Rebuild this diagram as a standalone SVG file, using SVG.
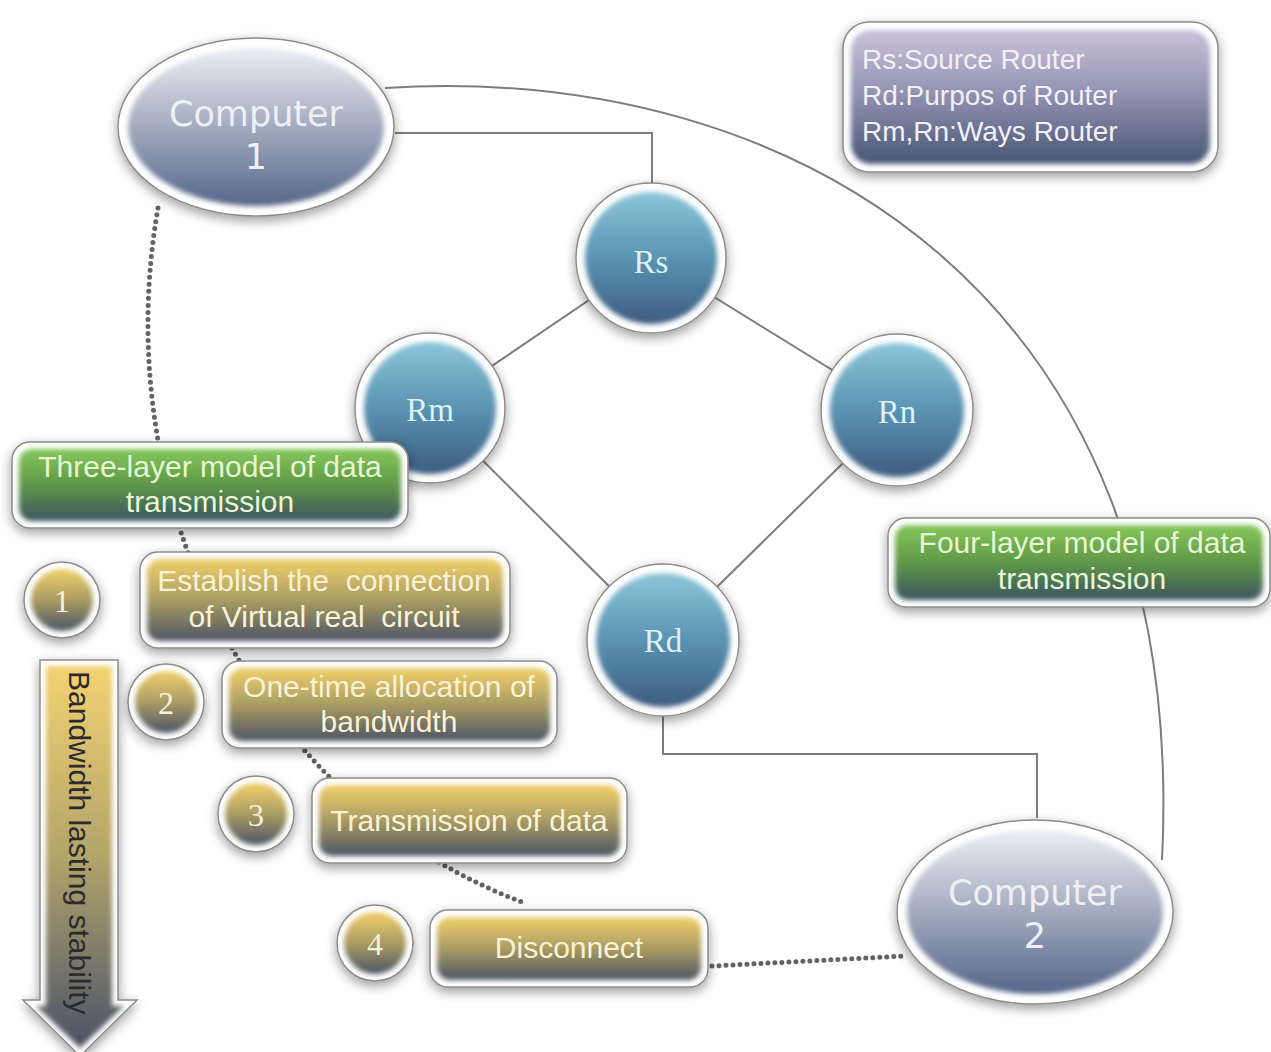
<svg xmlns="http://www.w3.org/2000/svg" width="1271" height="1052" viewBox="0 0 1271 1052">
  <defs>
    <linearGradient id="gComp" x1="0" y1="0" x2="0" y2="1">
      <stop offset="0" stop-color="#eceef3"/>
      <stop offset="0.45" stop-color="#a9b1c4"/>
      <stop offset="1" stop-color="#56668a"/>
    </linearGradient>
    <linearGradient id="gRouter" x1="0" y1="0" x2="0" y2="1">
      <stop offset="0" stop-color="#8bc6d9"/>
      <stop offset="0.5" stop-color="#5a93b1"/>
      <stop offset="1" stop-color="#3d5c80"/>
    </linearGradient>
    <linearGradient id="gLegend" x1="0" y1="0" x2="0" y2="1">
      <stop offset="0" stop-color="#cbc2db"/>
      <stop offset="0.5" stop-color="#8e8fae"/>
      <stop offset="1" stop-color="#485675"/>
    </linearGradient>
    <linearGradient id="gGreen" x1="0" y1="0" x2="0" y2="1">
      <stop offset="0" stop-color="#86c75a"/>
      <stop offset="0.5" stop-color="#5e9847"/>
      <stop offset="1" stop-color="#3c5461"/>
    </linearGradient>
    <linearGradient id="gGold" x1="0" y1="0" x2="0" y2="1">
      <stop offset="0" stop-color="#f2d06a"/>
      <stop offset="0.5" stop-color="#a99c64"/>
      <stop offset="1" stop-color="#4d5465"/>
    </linearGradient>
    <linearGradient id="gArrow" x1="0" y1="0" x2="0" y2="1">
      <stop offset="0" stop-color="#f3d272"/>
      <stop offset="0.5" stop-color="#b3a46a"/>
      <stop offset="1" stop-color="#4a5368"/>
    </linearGradient>
    <filter id="shadow" x="-20%" y="-20%" width="140%" height="150%">
      <feGaussianBlur in="SourceAlpha" stdDeviation="6"/>
      <feOffset dx="0" dy="4"/>
      <feComponentTransfer><feFuncA type="linear" slope="0.4"/></feComponentTransfer>
      <feMerge><feMergeNode/><feMergeNode in="SourceGraphic"/></feMerge>
    </filter>
    <filter id="soft" x="-10%" y="-10%" width="120%" height="120%">
      <feGaussianBlur stdDeviation="2.5"/>
    </filter>
  </defs>
  <style>
    .rim { fill: #ffffff; stroke: #8c8c8c; stroke-width: 1.5; filter: url(#shadow); }
    .core { filter: url(#soft); }
    .line { fill: none; stroke: #7d7d7d; stroke-width: 2; }
    .dots { fill: none; stroke: #636363; stroke-width: 5; stroke-linecap: round; stroke-dasharray: 0 7; }
    .comp { font-family: "DejaVu Sans", Verdana, sans-serif; font-size: 35px; fill: #eef0f6; text-anchor: middle; }
    .rt { font-family: "Liberation Serif", "Times New Roman", serif; font-size: 33px; fill: #dcf1f9; text-anchor: middle; }
    .num { font-family: "Liberation Serif", "Times New Roman", serif; font-size: 32px; fill: #f6f1df; text-anchor: middle; }
    .leg { font-family: "Liberation Sans", Arial, sans-serif; font-size: 28px; fill: #f2f0f8; }
    .gt { font-family: "Liberation Sans", Arial, sans-serif; font-size: 30px; fill: #e8f6d6; text-anchor: middle; }
    .yt { font-family: "Liberation Sans", Arial, sans-serif; font-size: 30px; fill: #fbf2d6; text-anchor: middle; white-space: pre; }
    .arr { font-family: "Liberation Sans", Arial, sans-serif; font-size: 30px; fill: #2b2b2b; }
  </style>

  <!-- connectors -->
  <g id="connectors">
    <path class="line" d="M385,88 C800,62 1190,300 1162,860"/>
    <path class="line" d="M395,133 H652 V186"/>
    <path class="line" d="M663,714 V754 H1037 V818"/>
    <path class="line" d="M651,258 L430,408"/>
    <path class="line" d="M651,258 L897,410"/>
    <path class="line" d="M430,408 L663,640"/>
    <path class="line" d="M897,410 L663,640"/>
    <path class="dots" d="M158,208 A550,610 0 0 0 522,902"/>
    <path class="dots" d="M712,966 L905,956"/>
  </g>

  <!-- computers -->
  <g id="computer1">
    <ellipse class="rim" cx="256" cy="127" rx="138" ry="89"/>
    <ellipse class="core" cx="256" cy="127" rx="128" ry="79" fill="url(#gComp)"/>
    <text class="comp" x="256" y="126">Computer</text>
    <text class="comp" x="256" y="169">1</text>
  </g>
  <g id="computer2">
    <ellipse class="rim" cx="1035" cy="912" rx="138" ry="92"/>
    <ellipse class="core" cx="1035" cy="912" rx="128" ry="82" fill="url(#gComp)"/>
    <text class="comp" x="1035" y="905">Computer</text>
    <text class="comp" x="1035" y="948">2</text>
  </g>

  <!-- routers -->
  <g id="router-rs">
    <circle class="rim" cx="651" cy="258" r="75"/>
    <circle class="core" cx="651" cy="258" r="66" fill="url(#gRouter)"/>
    <text class="rt" x="651" y="273">Rs</text>
  </g>
  <g id="router-rm">
    <circle class="rim" cx="430" cy="408" r="75"/>
    <circle class="core" cx="430" cy="408" r="66" fill="url(#gRouter)"/>
    <text class="rt" x="430" y="421">Rm</text>
  </g>
  <g id="router-rn">
    <circle class="rim" cx="897" cy="410" r="76"/>
    <circle class="core" cx="897" cy="410" r="67" fill="url(#gRouter)"/>
    <text class="rt" x="897" y="423">Rn</text>
  </g>
  <g id="router-rd">
    <circle class="rim" cx="663" cy="640" r="76"/>
    <circle class="core" cx="663" cy="640" r="67" fill="url(#gRouter)"/>
    <text class="rt" x="663" y="652">Rd</text>
  </g>

  <!-- legend -->
  <g id="legend">
    <rect class="rim" x="843" y="22" width="375" height="150" rx="26"/>
    <rect class="core" x="851" y="30" width="359" height="134" rx="20" fill="url(#gLegend)"/>
    <text class="leg" x="862" y="69">Rs:Source Router</text>
    <text class="leg" x="862" y="105">Rd:Purpos of Router</text>
    <text class="leg" x="862" y="141">Rm,Rn:Ways Router</text>
  </g>

  <!-- model labels -->
  <g id="three-layer">
    <rect class="rim" x="12" y="442" width="396" height="86" rx="18"/>
    <rect class="core" x="19" y="449" width="382" height="72" rx="13" fill="url(#gGreen)"/>
    <text class="gt" x="210" y="477">Three-layer model of data</text>
    <text class="gt" x="210" y="512">transmission</text>
  </g>
  <g id="four-layer">
    <rect class="rim" x="888" y="518" width="382" height="89" rx="18"/>
    <rect class="core" x="895" y="525" width="368" height="75" rx="13" fill="url(#gGreen)"/>
    <text class="gt" x="1082" y="553">Four-layer model of data</text>
    <text class="gt" x="1082" y="589">transmission</text>
  </g>

  <!-- steps -->
  <g id="step1">
    <circle class="rim" cx="62" cy="600" r="38"/>
    <circle class="core" cx="62" cy="600" r="31" fill="url(#gGold)"/>
    <text class="num" x="62" y="612">1</text>
    <rect class="rim" x="140" y="552" width="370" height="96" rx="18"/>
    <rect class="core" x="147" y="559" width="356" height="82" rx="13" fill="url(#gGold)"/>
    <text class="yt" x="324" y="591">Establish the  connection</text>
    <text class="yt" x="324" y="627">of Virtual real  circuit</text>
  </g>
  <g id="step2">
    <circle class="rim" cx="166" cy="702" r="38"/>
    <circle class="core" cx="166" cy="702" r="31" fill="url(#gGold)"/>
    <text class="num" x="166" y="714">2</text>
    <rect class="rim" x="222" y="661" width="335" height="87" rx="18"/>
    <rect class="core" x="229" y="668" width="321" height="73" rx="13" fill="url(#gGold)"/>
    <text class="yt" x="389" y="697">One-time allocation of</text>
    <text class="yt" x="389" y="732">bandwidth</text>
  </g>
  <g id="step3">
    <circle class="rim" cx="256" cy="814" r="38"/>
    <circle class="core" cx="256" cy="814" r="31" fill="url(#gGold)"/>
    <text class="num" x="256" y="826">3</text>
    <rect class="rim" x="312" y="778" width="315" height="85" rx="18"/>
    <rect class="core" x="319" y="785" width="301" height="71" rx="13" fill="url(#gGold)"/>
    <text class="yt" x="469" y="831">Transmission of data</text>
  </g>
  <g id="step4">
    <circle class="rim" cx="375" cy="943" r="38"/>
    <circle class="core" cx="375" cy="943" r="31" fill="url(#gGold)"/>
    <text class="num" x="375" y="955">4</text>
    <rect class="rim" x="430" y="910" width="278" height="77" rx="18"/>
    <rect class="core" x="437" y="917" width="264" height="63" rx="13" fill="url(#gGold)"/>
    <text class="yt" x="569" y="958">Disconnect</text>
  </g>

  <!-- bandwidth arrow -->
  <g id="bandwidth-arrow">
    <polygon class="rim" points="40,660 118,660 118,1000 137,1000 80,1056 23,1000 40,1000"/>
    <polygon class="core" points="46,666 112,666 112,1006 124,1006 80,1048 36,1006 46,1006" fill="url(#gArrow)"/>
    <text class="arr" transform="translate(69,671) rotate(90)">Bandwidth lasting stability</text>
  </g>
</svg>
